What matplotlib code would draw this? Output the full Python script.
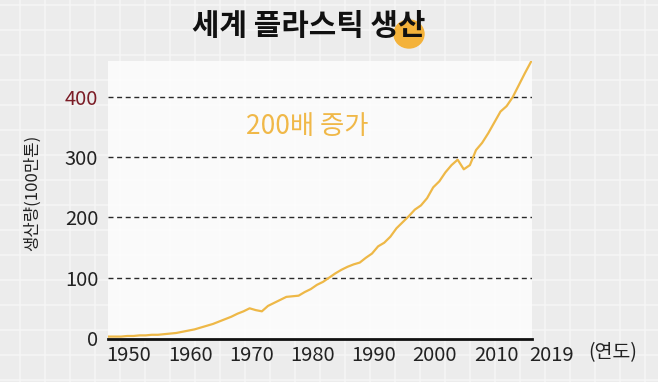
import matplotlib
matplotlib.use('Agg')
import matplotlib.pyplot as plt
import matplotlib.transforms as mtransforms
from matplotlib.patches import Ellipse
import numpy as np

plt.rcParams['font.family'] = ['Noto Sans CJK KR', 'DejaVu Sans']

# data (million tonnes)
years = list(range(1950, 2020))
production = [2, 2, 2, 3, 3, 4, 4, 5, 5, 6,
              7, 8, 10, 12, 14, 17, 20, 23, 27, 31,
              35, 40, 44, 49, 46, 44, 53, 58, 63, 68,
              69, 70, 76, 81, 88, 93, 100, 107, 113, 118,
              122, 125, 133, 140, 152, 158, 168, 182, 192, 202,
              213, 220, 232, 250, 260, 275, 287, 296, 280, 287,
              312, 324, 340, 358, 376, 385, 400, 420, 440, 459]
xticks = [1950, 1960, 1970, 1980, 1990, 2000, 2010, 2019]
yticks = [0, 100, 200, 300, 400]
title = '세계 플라스틱 생산'
ylabel = '생산량(100만톤)'
note = '200배 증가'
unit = '(연도)'

W, H = 658, 382
fig = plt.figure(figsize=(W / 100, H / 100), dpi=100)

# graph paper background
bg = fig.add_axes([0, 0, 1, 1], zorder=-2)
bg.set_xlim(0, W)
bg.set_ylim(H, 0)
bg.axis('off')
bg.add_patch(plt.Rectangle((0, 0), W, H, color='#ececec', zorder=0))
for gx in np.arange(20, W, 25):
    bg.axvline(gx, color='#f6f6f6', lw=1.1, zorder=1)
for gy in np.arange(5, H, 25):
    bg.axhline(gy, color='#f6f6f6', lw=1.1, zorder=1)
bg.add_patch(Ellipse((409, 34), 30, 28, color='#f4b23a', zorder=2))

# main chart
ax = fig.add_axes([108 / W, 1 - 339 / H, 424 / W, 278 / H])
ax.set_facecolor((1, 1, 1, 0.75))
ax.plot(years, production, color='#eeb847', lw=1.6, zorder=3)
ax.set_xlim(1949.85, 2019.15)
ax.set_ylim(-2, 460)

for v in yticks[1:]:
    ax.axhline(v, color='#2a2a2a', lw=1.0, ls=(0, (3.6, 2.6)), zorder=2)

for s in ['top', 'right', 'left']:
    ax.spines[s].set_visible(False)
ax.spines['bottom'].set_linewidth(2.0)
ax.spines['bottom'].set_color('#111111')

ax.set_yticks(yticks)
ax.set_yticklabels([str(v) for v in yticks], fontsize=14.5, color='#222222',
                   fontweight='light')
ax.get_yticklabels()[-1].set_color('#7b1c26')
ax.tick_params(axis='y', length=0, pad=7)

ax.set_xticks(xticks)
ax.set_xticklabels([str(v) for v in xticks], fontsize=14.5, color='#222222',
                   fontweight='light')
ax.tick_params(axis='x', length=0, pad=4)
shift = mtransforms.ScaledTranslation(0.2, 0, fig.dpi_scale_trans)
for lab in ax.get_xticklabels():
    lab.set_transform(lab.get_transform() + shift)

ax.text(1982.4, 351, note, color='#f0b848', fontsize=19, ha='center', va='center')

fig.text(32 / W, 1 - 193 / H, ylabel, rotation=90, fontsize=12, color='#222222',
         ha='center', va='center', fontweight='light')
fig.text(613 / W, 1 - 353 / H, unit, fontsize=14, color='#222222',
         ha='center', va='center', fontweight='light')
fig.text(309 / W, 1 - 26 / H, title, fontsize=21.5, fontweight='bold',
         color='#111111', ha='center', va='center')

fig.savefig('out.png', dpi=100)
